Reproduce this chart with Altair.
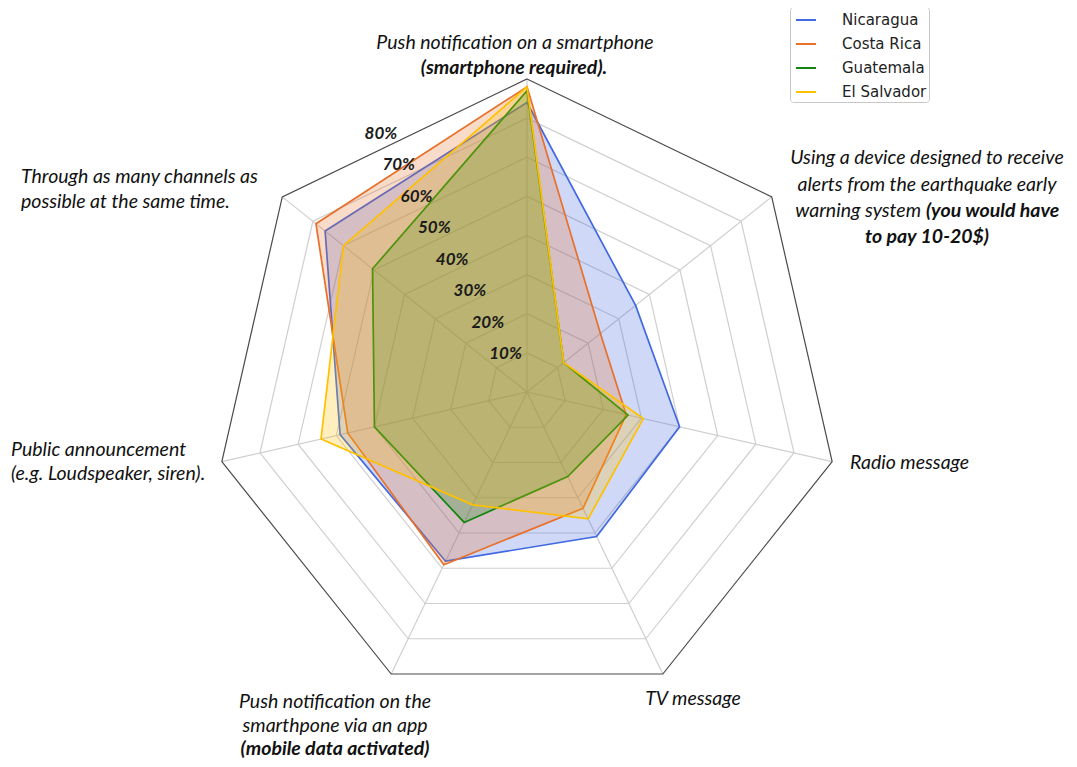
import math
import altair as alt
import pandas as pd

# ---------------- data ----------------
categories = [
    "Push notification on a smartphone (smartphone required).",
    "Using a device designed to receive alerts from the earthquake early warning system (you would have to pay 10-20$)",
    "Radio message",
    "TV message",
    "Push notification on the smarthpone via an app (mobile data activated)",
    "Public announcement (e.g. Loudspeaker, siren).",
    "Through as many channels as possible at the same time.",
]
countries = ["Nicaragua", "Costa Rica", "Guatemala", "El Salvador"]
nicaragua = [74, 35.5, 40, 41, 48, 49, 66]
costa_rica = [78, 24, 26, 33, 49, 47, 69]
guatemala = [77, 12, 26.5, 24, 37, 40, 50.5]
el_salvador = [78, 12, 30.5, 36, 32, 54, 60]
series_values = [nicaragua, costa_rica, guatemala, el_salvador]
grid_levels = [10, 20, 30, 40, 50, 60, 70, 80]
tick_labels = ["10%", "20%", "30%", "40%", "50%", "60%", "70%", "80%"]

# ---------------- styling / layout ----------------
colors = ["#4169E1", "#E8702A", "#13850F", "#FFC000"]
N = len(categories)
R_MAX = 80
PX = 3.9125            # pixels per unit
W, H = 1061, 751
CX, CY = 519, 384      # centre inside the plot area
xdom = [-CX / PX, (W - CX) / PX]
ydom = [-(H - CY) / PX, CY / PX]
XS = alt.Scale(domain=xdom, nice=False, zero=False)
YS = alt.Scale(domain=ydom, nice=False, zero=False)
LABEL_FONT = "Lato"
LABEL_SIZE = 19.5

polar_x = f"datum.r * sin(datum.k * 2 * PI / {N})"
polar_y = f"datum.r * cos(datum.k * 2 * PI / {N})"

# series table
rows = []
for c, vals in zip(countries, series_values):
    for k, v in enumerate(vals):
        rows.append({"country": c, "k": k, "r": v})
series_df = pd.DataFrame(rows)

# grid tables
ring_df = pd.DataFrame([{"level": lv, "k": k, "r": lv} for lv in grid_levels for k in range(N)])
spoke_df = pd.DataFrame([{"k": k, "r": R_MAX} for k in range(N)])
tick_df = pd.DataFrame({"lvl": grid_levels, "label": tick_labels})


def X(field="x"):
    return alt.X(f"{field}:Q", scale=XS, axis=None)


def Y(field="y"):
    return alt.Y(f"{field}:Q", scale=YS, axis=None)


inner_rings = (
    alt.Chart(ring_df)
    .transform_filter(f"datum.level < {R_MAX}")
    .transform_calculate(x=polar_x, y=polar_y)
    .mark_line(interpolate="linear-closed", stroke="#cfcfcf", strokeWidth=1.2)
    .encode(x=X(), y=Y(), detail="level:N", order="k:Q")
)
outer_ring = (
    alt.Chart(ring_df)
    .transform_filter(f"datum.level == {R_MAX}")
    .transform_calculate(x=polar_x, y=polar_y)
    .mark_line(interpolate="linear-closed", stroke="#4a4a4a", strokeWidth=1.2)
    .encode(x=X(), y=Y(), detail="level:N", order="k:Q")
)
spokes = (
    alt.Chart(spoke_df)
    .transform_calculate(x=polar_x, y=polar_y, x0="0", y0="0")
    .mark_rule(stroke="#cfcfcf", strokeWidth=1.2)
    .encode(x=X("x0"), y=Y("y0"), x2="x:Q", y2="y:Q")
)

color_enc = alt.Color(
    "country:N",
    scale=alt.Scale(domain=countries, range=colors),
    legend=alt.Legend(
        title=None,
        orient="none",
        legendX=782,
        legendY=-1,
        symbolType="stroke",
        symbolSize=400,
        symbolStrokeWidth=2,
        symbolOffset=3,
        rowPadding=5,
        labelFont="DejaVu Sans",
        labelFontSize=15,
        labelColor="#222222",
        labelOffset=25,
        padding=2,
        strokeColor="#c8c8c8",
        fillColor="white",
        cornerRadius=3,
    ),
)

series_layers = []
for c, col in zip(countries, colors):
    series_layers.append(
        alt.Chart(series_df)
        .transform_filter(alt.datum.country == c)
        .transform_calculate(x=polar_x, y=polar_y)
        .mark_line(interpolate="linear-closed", fill=col, fillOpacity=0.25, strokeWidth=1.7)
        .encode(x=X(), y=Y(), color=color_enc, order="k:Q")
    )

TICK_ANG = 29.5 * math.pi / 180
ticks = (
    alt.Chart(tick_df)
    .transform_calculate(
        rr="0.924 * datum.lvl + 1.9",
        x=f"-datum.rr * {math.sin(TICK_ANG)}",
        y=f"datum.rr * {math.cos(TICK_ANG)}",
    )
    .mark_text(font=LABEL_FONT, fontSize=17, fontStyle="italic", fontWeight="bold", color="#1a1a1a")
    .encode(x=X(), y=Y(), text="label:N")
)

# category label lines (page pixel anchors converted to chart units)
label_lines = [
    ("Push notification on a smartphone", 515, 43, "center", "normal"),
    ("(smartphone required).", 514, 68, "center", "bold"),
    ("Using a device designed to receive", 927, 158, "center", "normal"),
    ("alerts from the earthquake early", 927, 185, "center", "normal"),
    ("warning system", 921, 211, "right", "normal"),
    ("(you would have", 926, 211, "left", "bold"),
    ("to pay 10-20$)", 927, 237, "center", "bold"),
    ("Radio message", 850, 463, "left", "normal"),
    ("TV message", 693, 699, "center", "normal"),
    ("Push notification on the", 335, 702, "center", "normal"),
    ("smarthpone via an app", 335, 726, "center", "normal"),
    ("(mobile data activated)", 335, 749, "center", "bold"),
    ("Public announcement", 11, 450, "left", "normal"),
    ("(e.g. Loudspeaker, siren).", 11, 474, "left", "normal"),
    ("Through as many channels as", 21, 177, "left", "normal"),
    ("possible at the same time.", 21, 202, "left", "normal"),
]
lab_df = pd.DataFrame(label_lines, columns=["text", "px", "py", "align", "weight"])
lab_df["x"] = (lab_df["px"] - 8 - CX) / PX
lab_df["y"] = (CY - (lab_df["py"] - 8)) / PX

label_layers = []
for al in ["left", "center", "right"]:
    for wt in ["normal", "bold"]:
        sub = lab_df[(lab_df["align"] == al) & (lab_df["weight"] == wt)]
        if len(sub) == 0:
            continue
        label_layers.append(
            alt.Chart(sub)
            .mark_text(font=LABEL_FONT, fontSize=LABEL_SIZE, fontStyle="italic", fontWeight=wt,
                       align=al, baseline="middle", color="#111111")
            .encode(x=X(), y=Y(), text="text:N")
        )

chart = (
    alt.layer(inner_rings, spokes, outer_ring, *series_layers, ticks, *label_layers)
    .properties(width=W, height=H, padding=0, autosize="none", background="white")
    .configure_view(stroke=None)
)

chart.save("out.html", embed_options={"renderer": "svg", "actions": False})
